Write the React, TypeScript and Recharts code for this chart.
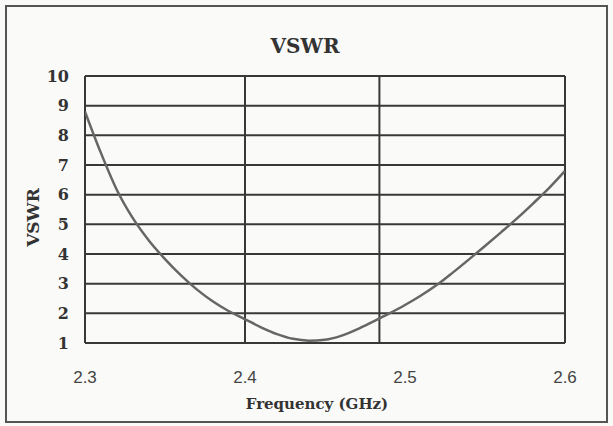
import { LineChart, Line, XAxis, YAxis, CartesianGrid } from 'recharts'

const freqs = [
  2.30, 2.31, 2.32, 2.33, 2.34, 2.35, 2.36, 2.37, 2.38, 2.39, 2.40,
  2.41, 2.42, 2.43, 2.44, 2.45, 2.46, 2.47, 2.48, 2.49, 2.50,
  2.51, 2.52, 2.53, 2.54, 2.55, 2.56, 2.57, 2.58, 2.59, 2.60,
]
const vswr = [
  8.8, 7.4, 6.15, 5.2, 4.45, 3.83, 3.28, 2.8, 2.4, 2.07, 1.8,
  1.53, 1.3, 1.14, 1.08, 1.11, 1.24, 1.46, 1.72, 1.99, 2.28,
  2.6, 2.96, 3.38, 3.82, 4.27, 4.73, 5.2, 5.7, 6.22, 6.8,
]
const xTicks = [2.3, 2.4, 2.5, 2.6]
const yTicks = [1, 2, 3, 4, 5, 6, 7, 8, 9, 10]
// the scanned plot's inner vertical lines don't sit on the tick labels
const gridFreqs = [2.3, 2.4, 2.484, 2.6]

const data = freqs.map((f, i) => ({ freq: f, vswr: vswr[i] }))

const serif = '"DejaVu Serif", serif'

export default function App() {
  return (
    <div style={{ position: 'absolute', left: 0, top: 0, width: 613, height: 426, background: '#fafaf8' }}>
      <div
        style={{
          position: 'absolute', left: 5, top: 5, width: 603, height: 418,
          border: '2px solid #555', boxSizing: 'border-box',
        }}
      />
      <div
        style={{
          position: 'absolute', left: 0, top: 34, width: 610, textAlign: 'center',
          fontFamily: serif, fontWeight: 'bold', fontSize: 20, color: '#333',
        }}
      >
        VSWR
      </div>
      <LineChart
        width={613}
        height={426}
        data={data}
        margin={{ top: 76, right: 48, bottom: 0, left: 0 }}
        style={{ position: 'absolute', left: 0, top: 0 }}
      >
        <CartesianGrid
          stroke="#383838"
          strokeWidth={2}
          verticalValues={gridFreqs}
          horizontalValues={yTicks}
        />
        <XAxis
          dataKey="freq"
          type="number"
          domain={[2.3, 2.6]}
          ticks={xTicks}
          tickFormatter={(v: number) => v.toFixed(1)}
          allowDataOverflow
          axisLine={false}
          tickLine={false}
          tickSize={0}
          tickMargin={28}
          height={83}
          tick={{ fontFamily: '"Liberation Sans", sans-serif', fontSize: 17, fill: '#444' }}
          label={{
            value: 'Frequency (GHz)',
            position: 'insideBottom',
            offset: 17,
            dx: -8,
            style: { fontFamily: serif, fontWeight: 'bold', fontSize: 15, fill: '#333' },
          }}
        />
        <YAxis
          type="number"
          domain={[1, 10]}
          ticks={yTicks}
          allowDataOverflow
          axisLine={false}
          tickLine={false}
          tickSize={0}
          tickMargin={16}
          width={85}
          tick={{ fontFamily: serif, fontWeight: 'bold', fontSize: 16, fill: '#333' }}
          label={{
            value: 'VSWR',
            angle: -90,
            position: 'insideLeft',
            offset: 33,
            dy: 8,
            style: { textAnchor: 'middle', fontFamily: serif, fontWeight: 'bold', fontSize: 17, fill: '#333' },
          }}
        />
        <Line
          type="monotone"
          dataKey="vswr"
          stroke="#666"
          strokeWidth={2.5}
          dot={false}
          isAnimationActive={false}
        />
      </LineChart>
    </div>
  )
}
